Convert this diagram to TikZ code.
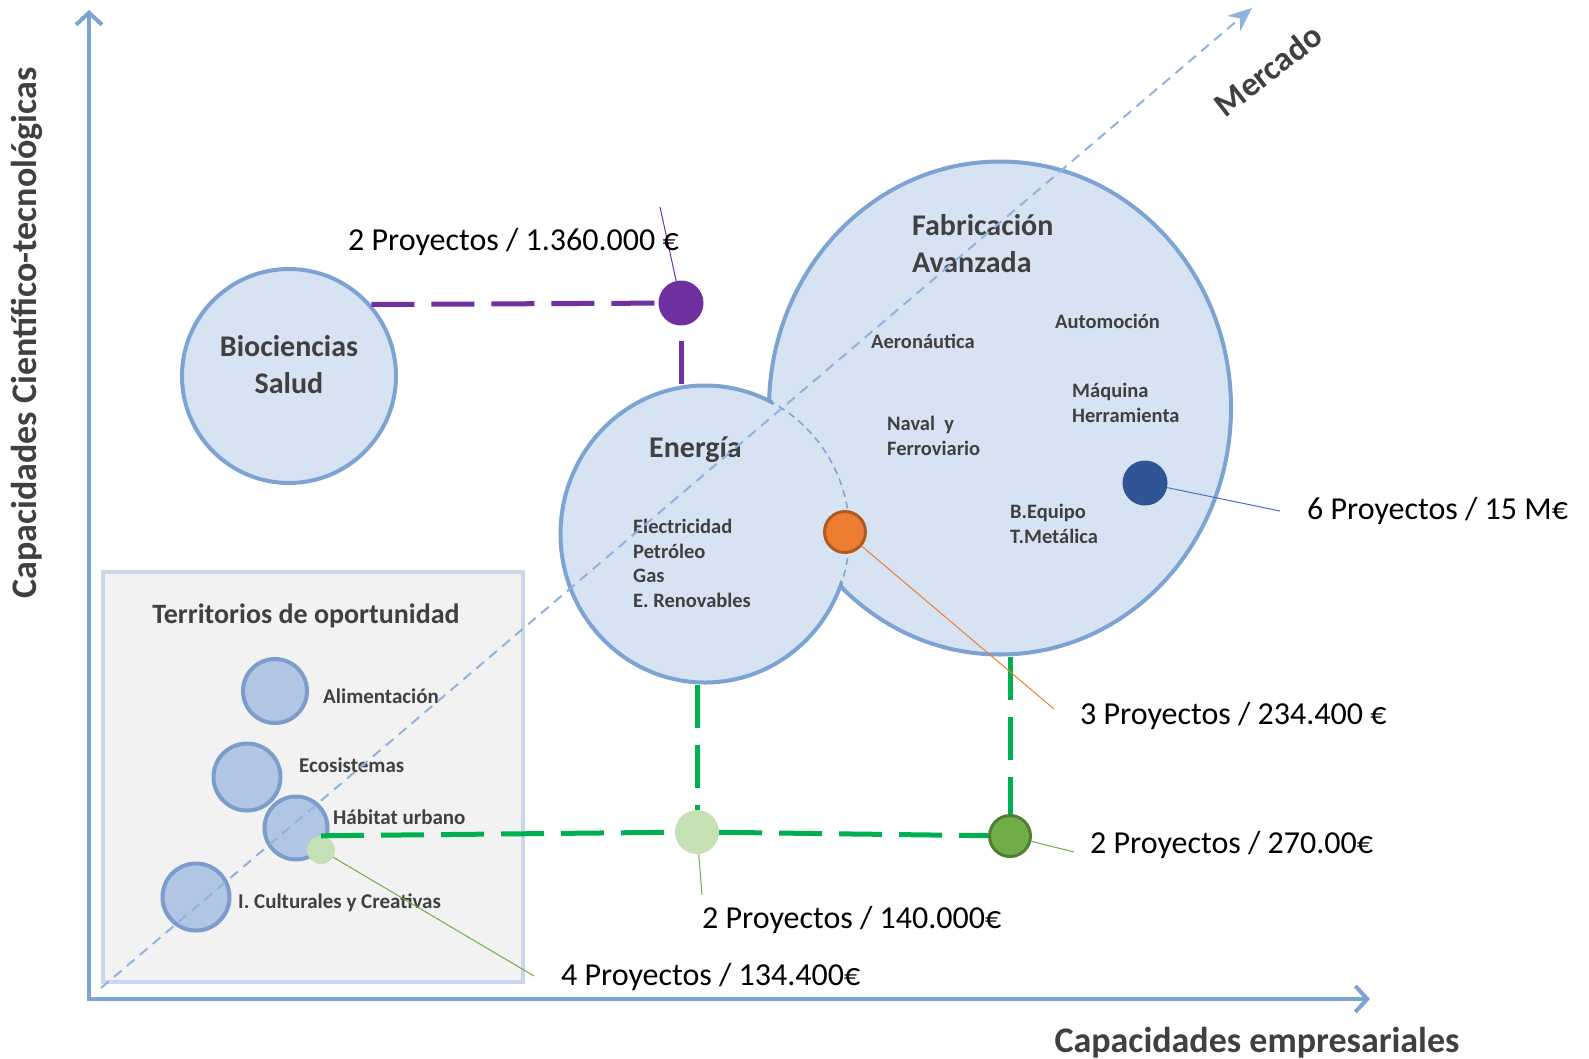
\documentclass[tikz,border=0pt]{standalone}
\usepackage{fontspec}
\setmainfont{Carlito}
\usetikzlibrary{arrows.meta,shapes.geometric}

\definecolor{blobfill}{RGB}{215,227,242}
\definecolor{blobline}{RGB}{125,163,210}
\definecolor{smallfill}{RGB}{176,198,228}
\definecolor{smallline}{RGB}{124,157,204}
\definecolor{boxfill}{RGB}{242,242,242}
\definecolor{boxline}{RGB}{200,215,236}
\definecolor{axisblue}{RGB}{125,163,210}
\definecolor{diagblue}{RGB}{143,178,222}
\definecolor{txtgray}{RGB}{64,64,64}
\definecolor{morado}{RGB}{112,48,160}
\definecolor{azul}{RGB}{47,85,151}
\definecolor{azulfino}{RGB}{68,114,196}
\definecolor{naranja}{RGB}{237,125,49}
\definecolor{naranjaosc}{RGB}{174,90,33}
\definecolor{verde}{RGB}{0,176,80}
\definecolor{verdemed}{RGB}{112,173,71}
\definecolor{verdeosc}{RGB}{80,126,50}
\definecolor{verdeclaro}{RGB}{197,224,180}

\begin{document}
\begin{tikzpicture}[x=1pt,y=-1pt]
\tikzset{
  blob/.style={draw=blobline, fill=blobfill, line width=4pt, inner sep=0pt},
  tinyblob/.style={circle, draw=smallline, fill=smallfill, line width=4pt, inner sep=0pt, minimum size=64pt},
  punto/.style={circle, inner sep=0pt, minimum size=44pt},
  cifra/.style={font=\fontsize{32}{38}\selectfont, inner sep=0pt, anchor=base west},
  titulo/.style={font=\bfseries\fontsize{30}{37}\selectfont, text=txtgray, inner sep=0pt, anchor=base west, align=left},
  sector/.style={font=\bfseries\fontsize{20.5}{24.5}\selectfont, text=txtgray, inner sep=0pt, anchor=base west, align=left},
  eje/.style={font=\bfseries\fontsize{36}{43}\selectfont, text=txtgray, inner sep=0pt, anchor=base},
  tramo/.style={line width=5pt, dash pattern=on 43pt off 17pt},
  guia/.style={line width=1pt}
}
\useasboundingbox (0,0) rectangle (1589,1058);

% territorios de oportunidad
\draw[fill=boxfill, draw=boxline, line width=4pt] (103,572) rectangle (523,982);
\node[titulo, font=\bfseries\fontsize{28}{34}\selectfont, anchor=base] (terr) at (306,623) {Territorios de oportunidad};
\node[tinyblob] (alim) at (275,691) {};
\node[tinyblob, minimum size=67pt] (eco) at (247,777) {};
\node[tinyblob, minimum size=63pt] (habi) at (296,828) {};
\node[tinyblob, minimum size=67pt] (cult) at (196,897) {};
\node[sector, font=\bfseries\fontsize{21}{25}\selectfont] (alimtx) at (323,703) {Alimentación};
\node[sector, font=\bfseries\fontsize{21}{25}\selectfont] (ecotx) at (299,772) {Ecosistemas};
\node[sector, font=\bfseries\fontsize{21}{25}\selectfont] (habitx) at (333,824) {Hábitat urbano};
\node[sector, font=\bfseries\fontsize{21}{25}\selectfont] (culttx) at (238,908) {I. Culturales y Creativas};

% las tres burbujas grandes
\node[blob, circle, minimum size=214pt] (bio) at (289,376) {};
\node[blob, ellipse, minimum width=462pt, minimum height=493pt] (fab) at (1000,408) {};
\node[blob, ellipse, minimum width=289pt, minimum height=297pt] (ener) at (705,534) {};
\begin{scope}
  \clip (fab.center) ellipse [x radius=227, y radius=242];
  \fill[blobfill] (ener.center) ellipse [x radius=149, y radius=153];
  \draw[blobline, line width=1.5pt, dash pattern=on 7pt off 5pt] (ener.center) ellipse [x radius=144.5, y radius=148.5];
\end{scope}

% (con varias lineas, base = ultima linea)
\node[titulo, anchor=base, align=center] (biotx) at (289,393) {Biociencias\\Salud};
\node[titulo] (fabtx) at (912,272) {Fabricación\\Avanzada};
\node[titulo] (enertx) at (649,457) {Energía};
\node[sector] (aero) at (871,348) {Aeronáutica};
\node[sector] (auto) at (1055,328) {Automoción};
\node[sector] (maq) at (1072,422) {Máquina\\Herramienta};
\node[sector] (naval) at (887,455) {Naval~~y\\Ferroviario};
\node[sector] (equipo) at (1010,543) {B.Equipo\\T.Metálica};
\node[sector] (enerlist) at (633,607) {Electricidad\\Petróleo\\Gas\\E. Renovables};

% ejes
\coordinate (orig) at (89,999);
\coordinate (ytop) at (89,10);
\coordinate (xend) at (1370,999);
\draw[axisblue, line width=4pt, {Straight Barb[length=12pt,width=26pt]}-{Straight Barb[length=12pt,width=26pt]}] (ytop) -- (orig) -- (xend);
\coordinate (dstart) at (101,988);
\coordinate (dend) at (1252,8);
\draw[diagblue, line width=2pt, dash pattern=on 10pt off 7pt, -{Stealth[length=24pt,width=20pt,inset=8pt]}] (dstart) -- (dend);
\node[eje, font=\bfseries\fontsize{34}{40}\selectfont, anchor=center, rotate=38] (merc) at (1268,70) {Mercado};
\node[eje, rotate=90] (ylab) at (36,333) {Capacidades Científico-tecnológicas};
\node[eje] (xlab) at (1257,1052) {Capacidades empresariales};

% proyectos
\node[punto, fill=morado, minimum size=45pt] (pmor) at (681,303) {};
\node[punto, fill=azul, minimum size=45pt] (pazul) at (1145,483) {};
\node[punto, fill=naranja, draw=naranjaosc, line width=3pt, minimum size=41pt] (pnar) at (845,532) {};
\node[punto, fill=verdemed, draw=verdeosc, line width=3pt, minimum size=41pt] (pver) at (1010,836) {};
\node[punto, fill=verdeclaro] (pclaro) at (697,832) {};
\node[punto, fill=verdeclaro, minimum size=28pt] (phab) at (321,850) {};

\draw[tramo, morado] (bio.41.6) -- (pmor);
\draw[tramo, morado] (pmor |- ener.north) -- (pmor);
\draw[tramo, verde] (phab.north) -- (pclaro);
\draw[tramo, verde] (pclaro) -- (pver);
\draw[tramo, verde] (pclaro |- ener.south) -- (pclaro);
\draw[tramo, verde] (pver |- fab.south) -- (pver);

\coordinate (gmor) at (660,207);
\coordinate (gazul) at (1280,511);
\coordinate (gnar) at (1054,709);
\coordinate (gver) at (1074,852);
\coordinate (gclaro) at (702,895);
\coordinate (ghab) at (534,976);
\draw[guia, morado] (pmor) -- (gmor);
\draw[guia, azulfino] (pazul) -- (gazul);
\draw[guia, naranja] (pnar) -- (gnar);
\draw[guia, verdemed] (pver) -- (gver);
\draw[guia, verdemed] (pclaro) -- (gclaro);
\draw[guia, verdemed] (phab) -- (ghab);

\node[cifra] (lmor) at (348,250) {2 Proyectos / 1.360.000 €};
\node[cifra] (lazul) at (1307,519) {6 Proyectos / 15 M€};
\node[cifra] (lnar) at (1080,724) {3 Proyectos / 234.400 €};
\node[cifra] (lver) at (1090,853) {2 Proyectos / 270.00€};
\node[cifra] (lclaro) at (702,928) {2 Proyectos / 140.000€};
\node[cifra] (lhab) at (561,985) {4 Proyectos / 134.400€};
\end{tikzpicture}
\end{document}
